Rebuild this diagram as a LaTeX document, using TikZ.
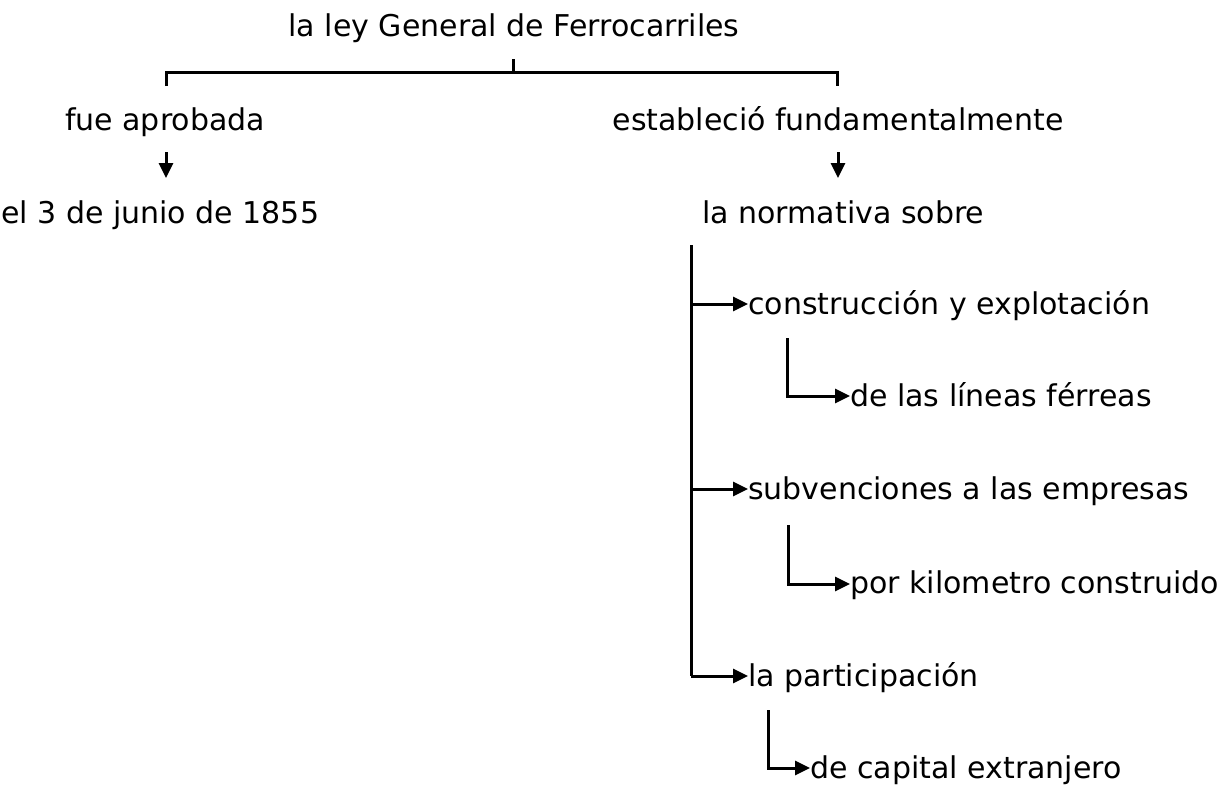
\documentclass[tikz,border=0pt]{standalone}
\usepackage{fontspec}
\setmainfont{DejaVu Sans}
\usetikzlibrary{arrows.meta}
\begin{document}
\begin{tikzpicture}[x=1pt,y=-1pt,
 lbl/.style={anchor=base west,inner sep=0pt,font=\fontsize{30}{34}\selectfont},
 ln/.style={line width=3pt},
 arr/.style={line width=3pt,-{Triangle[length=15pt,width=14pt]}}]
\useasboundingbox[fill=white] (0,0) rectangle (1225,787);
% texts
\node[lbl,anchor=base] (t) at (514,36) {la ley General de Ferrocarriles};
\node[lbl,anchor=base] (fa) at (165,130) {fue aprobada};
\node[lbl,anchor=base] (ef) at (838,130) {estableció fundamentalmente};
\node[lbl] (d) at (1,223) {el 3 de junio de 1855};
\node[lbl] (n) at (702,223) {la normativa sobre};
\node[lbl] (c1) at (748,314) {construcción y explotación};
\node[lbl] (c2) at (850,406) {de las líneas férreas};
\node[lbl] (s1) at (748,499) {subvenciones a las empresas};
\node[lbl] (s2) at (850,593) {por kilometro construido};
\node[lbl] (p1) at (748,686) {la participación};
\node[lbl] (p2) at (810,778) {de capital extranjero};
% bracket
\coordinate (bt) at (513,59);
\coordinate (bm) at (513,72);
\coordinate (bl) at (166,72);
\coordinate (br) at (837,72);
\coordinate (bl2) at (166,86);
\coordinate (br2) at (837,86);
\draw[ln] (bt) -- (bm);
\draw[ln] (bl2) -- (bl) -- (br) -- (br2);
% down arrows
\coordinate (a1) at (166,152);
\coordinate (a1e) at (166,178);
\coordinate (a2) at (838,152);
\coordinate (a2e) at (838,178);
\draw[arr] (a1) -- (a1e);
\draw[arr] (a2) -- (a2e);
% main spine
\coordinate (m0) at (691,245);
\coordinate (m1) at (691,304);
\coordinate (m2) at (691,489);
\coordinate (m3) at (691,676);
\draw[ln] (m0) -- (m3);
\draw[arr] (m1) -- (c1.west |- m1);
\draw[arr] (m2) -- (s1.west |- m2);
\draw[arr] (m3) -- (p1.west |- m3);
% sub branches
\coordinate (u1) at (787,338);
\coordinate (u1b) at (787,396);
\draw[arr] (u1) -- (u1b) -- (c2.west |- u1b);
\coordinate (u2) at (788,525);
\coordinate (u2b) at (788,584);
\draw[arr] (u2) -- (u2b) -- (s2.west |- u2b);
\coordinate (u3) at (768,710);
\coordinate (u3b) at (768,768);
\draw[arr] (u3) -- (u3b) -- (p2.west |- u3b);
\end{tikzpicture}
\end{document}
